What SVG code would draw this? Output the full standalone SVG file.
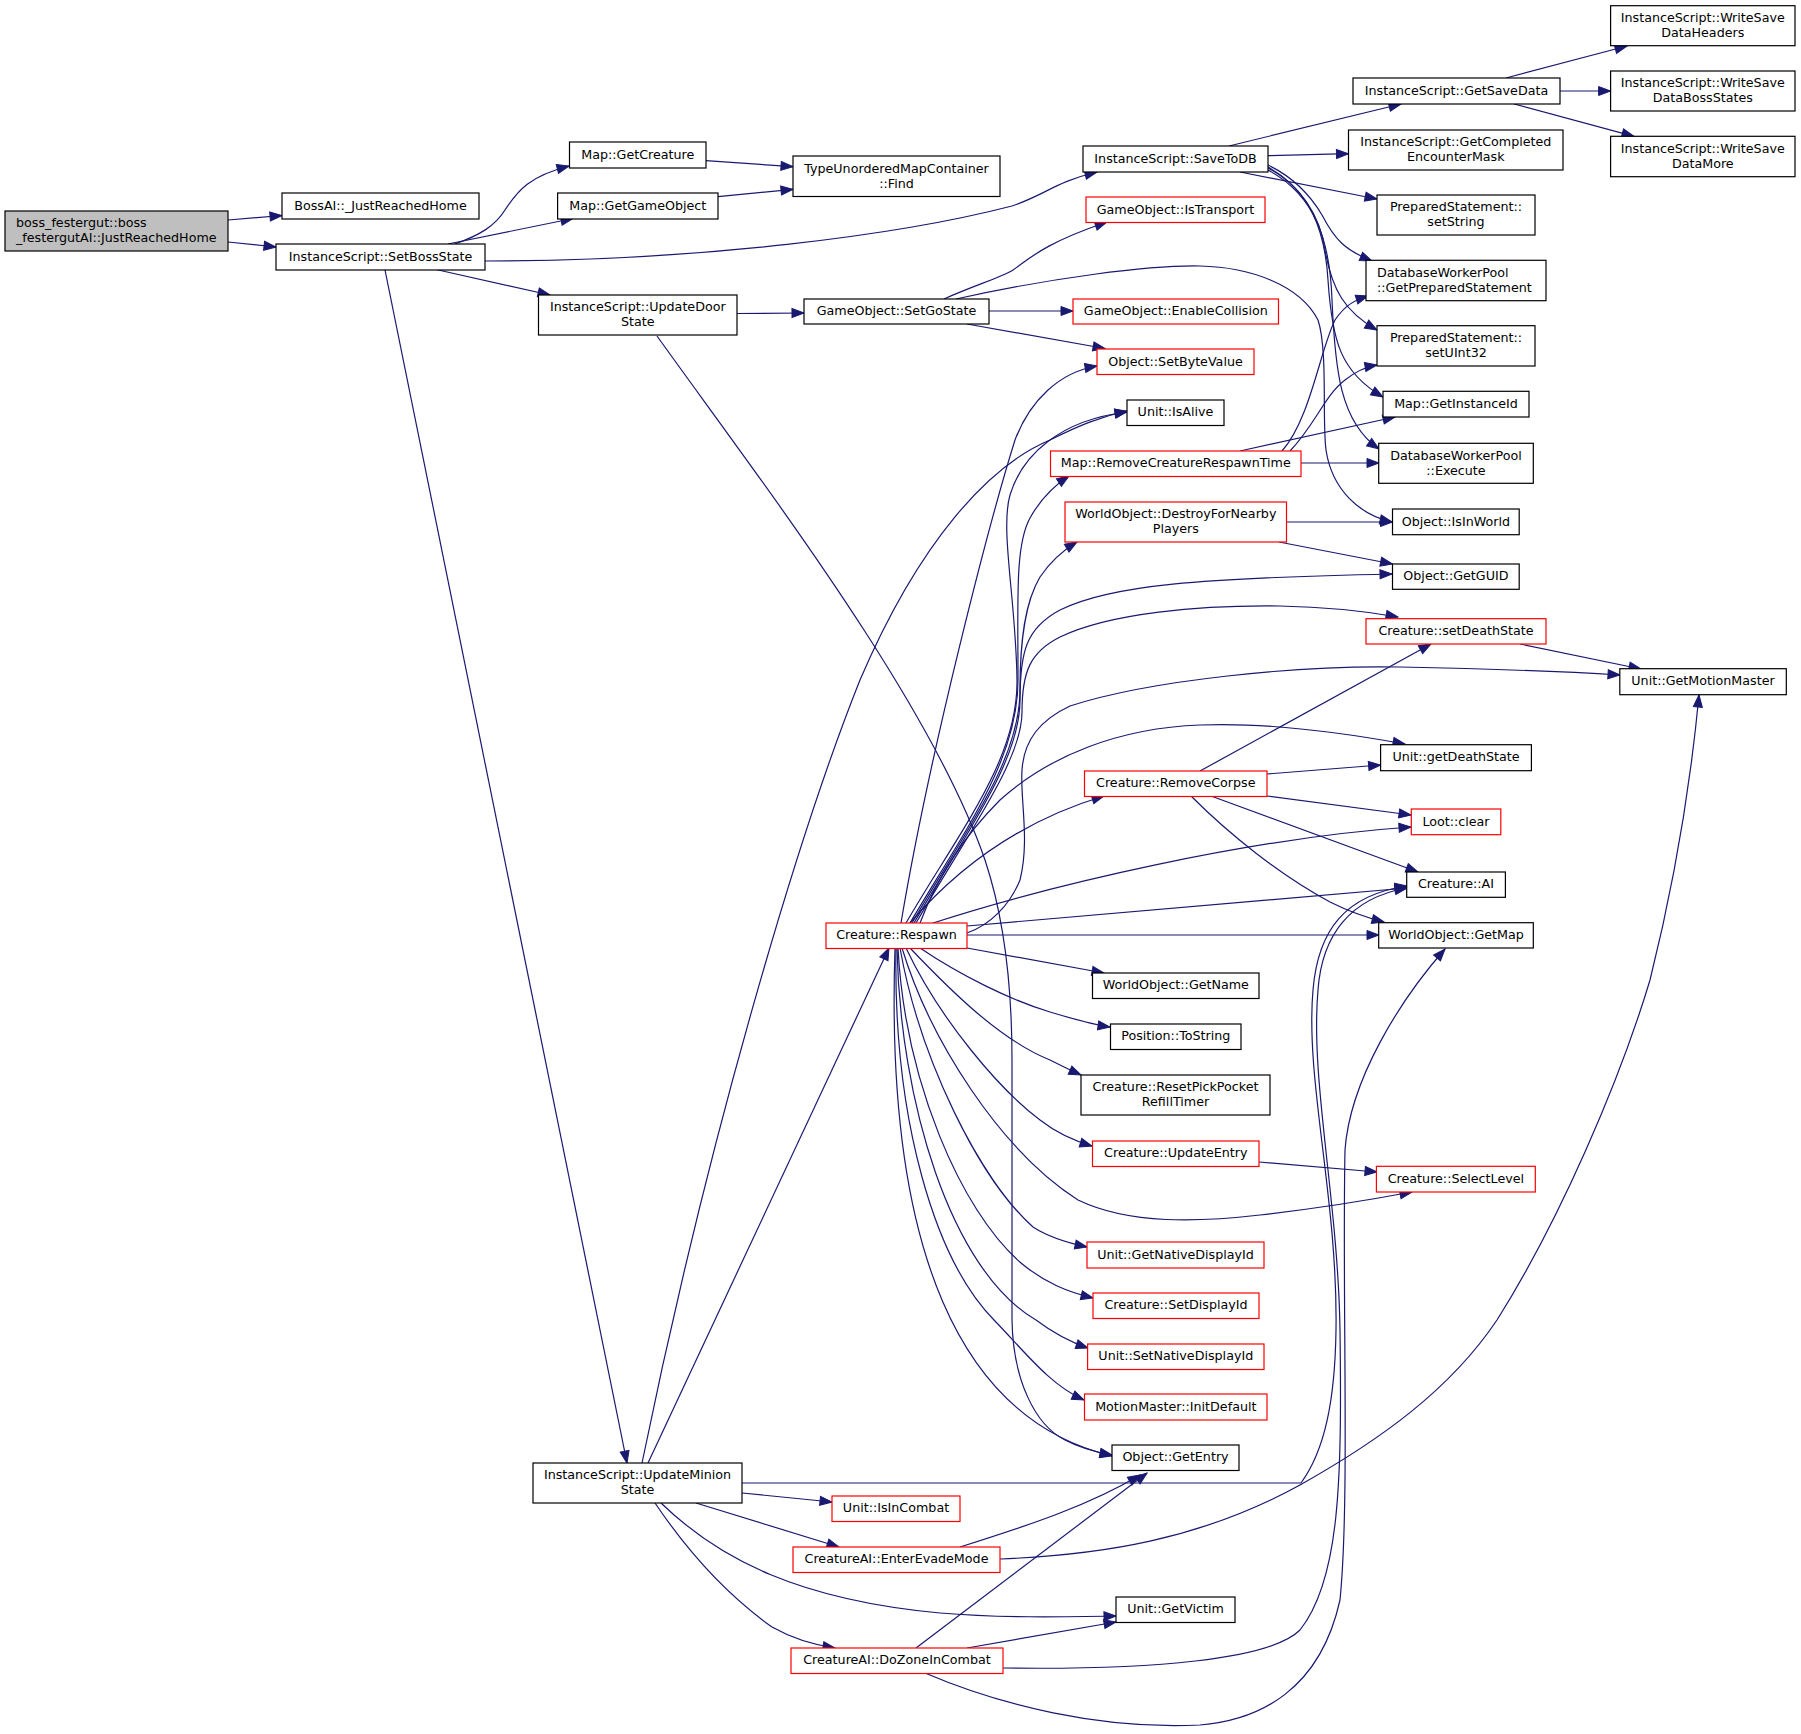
<svg xmlns="http://www.w3.org/2000/svg" width="1801" height="1734" viewBox="0 0 1801 1734">
<defs>
<marker id="a" markerUnits="userSpaceOnUse" markerWidth="13" markerHeight="10" refX="12" refY="4.5" orient="auto" overflow="visible">
<path d="M0,0 L12,4.5 L0,9 z" fill="#191970" stroke="#191970" stroke-width="1"/>
</marker>
<style>
.n rect{fill:#ffffff;stroke:#000000;stroke-width:1.2}
.r rect{stroke:#ff0000}
.g rect{fill:#bfbfbf}
text{font-family:"DejaVu Sans","Liberation Sans",sans-serif;font-size:12.7px;fill:#000000;text-anchor:middle}
text.l{text-anchor:start}
#edges path{fill:none;stroke:#191970;stroke-width:1.2;marker-end:url(#a)}
</style>
</defs>
<rect x="0" y="0" width="1801" height="1734" fill="#ffffff"/>
<g id="edges">
<path d="M228,220 L282,215.5"/>
<path d="M228,242 L276,247"/>
<path d="M455,244 C480,235 495,226 505,210 C518,190 530,176 569,166"/>
<path d="M448,244 L573,218.5"/>
<path d="M485,261 C700,261 900,235 1012,206 C1045,195 1055,182 1097,172"/>
<path d="M436,269.5 L550,295"/>
<path d="M385,270 L627,1463"/>
<path d="M706,160.7 L793,166.7"/>
<path d="M718,196.7 L793,189.3"/>
<path d="M737,313.5 L804,313"/>
<path d="M657,336 C760,480 930,700 985,860 C1005,920 1012,985 1012,1060 L1012,1320 C1013,1380 1035,1425 1065,1440 C1080,1448 1095,1452 1112,1455"/>
<path d="M1229,146 L1401,104"/>
<path d="M1268,155.7 L1348.5,153.7"/>
<path d="M1240,172 L1377,199"/>
<path d="M1268,165 C1295,178 1312,198 1322,215 C1335,240 1345,250 1372,261"/>
<path d="M1268,167 C1300,185 1320,215 1325,250 C1332,290 1345,312 1377,330"/>
<path d="M1268,168 C1310,190 1325,230 1328,280 C1332,340 1340,372 1383,397"/>
<path d="M1268,170 C1315,195 1330,240 1332,300 C1335,370 1340,422 1379,449"/>
<path d="M1506,78 L1627,46"/>
<path d="M1560,91 L1610.6,91"/>
<path d="M1514,104 L1634,136.3"/>
<path d="M944,299 C975,285 1000,278 1013,270 C1030,258 1045,243 1107,222"/>
<path d="M956,299 C1050,278 1150,265 1200,266 C1250,267 1300,285 1318,320 C1328,350 1322,420 1326,450 C1332,490 1360,515 1392,522"/>
<path d="M989,311 L1073,311"/>
<path d="M967,324 L1105,348.5"/>
<path d="M901,923 C930,750 990,520 1015,440 C1030,400 1060,372 1097,366"/>
<path d="M906,923 C960,830 1018,760 1017,680 C1016,600 1000,530 1010,495 C1022,455 1060,420 1127,412"/>
<path d="M642,1463 C710,1130 800,830 860,680 C920,540 990,465 1050,440 C1080,425 1100,417 1127,411"/>
<path d="M910,923 C965,830 1018,760 1018,680 C1018,600 1015,545 1030,518 C1040,500 1052,487 1069,476"/>
<path d="M912,923 C966,830 1020,760 1020,690 C1020,640 1025,602 1040,577 C1050,562 1062,551 1077,542"/>
<path d="M914,923 C968,830 1020,760 1020,700 C1020,652 1026,628 1060,610 C1110,585 1200,578 1392,574"/>
<path d="M916,923 C970,830 1022,760 1022,712 C1022,672 1030,652 1060,637 C1110,613 1200,605 1280,606 C1330,607 1370,612 1398,617"/>
<path d="M967,933 C990,925 1010,905 1020,880 C1030,840 1020,800 1022,770 C1024,740 1040,720 1070,706 C1150,680 1300,665 1400,667 C1500,669 1570,672 1620,675"/>
<path d="M920,923 C940,870 970,830 1000,800 C1050,755 1120,728 1200,725 C1270,722 1350,734 1405,744"/>
<path d="M910,923 Q990,830 1104,796"/>
<path d="M933,923 C1050,885 1250,838 1411,827"/>
<path d="M967,926 L1407,888"/>
<path d="M967,935 L1379,935"/>
<path d="M967,948 L1104,973"/>
<path d="M920,948 C960,975 1010,1000 1050,1012 C1080,1021 1095,1025 1110,1027"/>
<path d="M910,948 C950,990 1000,1040 1050,1060 C1062,1066 1072,1071 1081,1075"/>
<path d="M906,948 C940,1020 1000,1090 1040,1120 C1058,1134 1075,1141 1092,1146"/>
<path d="M902,948 C930,1040 1000,1150 1078,1200 C1130,1225 1200,1222 1260,1215 C1330,1207 1380,1198 1412,1192"/>
<path d="M900,948 C920,1060 980,1180 1033,1227 C1050,1238 1068,1243 1087,1247"/>
<path d="M898,948 C905,1080 960,1210 1021,1263 C1045,1283 1068,1292 1093,1298"/>
<path d="M897,948 C900,1100 950,1270 1036,1320 C1052,1332 1070,1342 1088,1348"/>
<path d="M896,948 C893,1120 935,1260 994,1320 C1025,1352 1050,1385 1084,1400"/>
<path d="M895,948 C885,1250 960,1420 1112,1456"/>
<path d="M648,1463 L889,948"/>
<path d="M742,1483 L1301,1483 C1325,1450 1335,1400 1336,1330 C1338,1200 1305,1080 1313,990 C1318,930 1345,895 1407,886"/>
<path d="M742,1493 L832,1502"/>
<path d="M696,1503 L839,1547"/>
<path d="M655,1503 C680,1540 720,1590 772,1627 C795,1640 815,1645 835,1648"/>
<path d="M661,1503 C720,1560 800,1600 940,1613 C1000,1618 1060,1617 1116,1616"/>
<path d="M960,1547 C1030,1525 1090,1505 1140,1475"/>
<path d="M1000,1559 C1100,1555 1200,1540 1300,1485 C1380,1440 1450,1390 1497,1320 C1560,1220 1620,1080 1650,980 C1675,880 1690,790 1699,695"/>
<path d="M916,1648 L1147,1473"/>
<path d="M967,1648 L1116,1622"/>
<path d="M1003,1668 C1150,1670 1270,1660 1300,1630 C1340,1580 1342,1480 1340,1330 C1338,1200 1310,1080 1318,990 C1322,935 1350,898 1407,888"/>
<path d="M925,1673 C1000,1705 1100,1730 1200,1725 C1260,1720 1320,1690 1340,1600 C1350,1500 1342,1300 1345,1150 C1350,1080 1400,1000 1445,949"/>
<path d="M1301,463 L1379,463"/>
<path d="M1240,451 L1395,417"/>
<path d="M1282,451 C1310,420 1320,350 1335,320 C1345,305 1355,300 1368,296"/>
<path d="M1290,451 C1315,425 1325,395 1345,380 C1355,372 1365,367 1377,365"/>
<path d="M1286.5,522 L1392.5,522"/>
<path d="M1279,542 L1392.5,564"/>
<path d="M1200,771 L1431,644"/>
<path d="M1267,774 L1380.6,765"/>
<path d="M1267,796 L1411,815"/>
<path d="M1211,796 L1418,872"/>
<path d="M1191,796 C1230,835 1280,875 1330,902 C1350,912 1368,918 1384,922"/>
<path d="M1520,644 L1641,669"/>
<path d="M1259,1162 L1377,1172"/>
</g>
<g id="root" class="n g"><rect x="5" y="211" width="223" height="40"/><text class="l" x="16" y="227.3">boss_festergut::boss</text><text class="l" x="16" y="242.3">_festergutAI::JustReachedHome</text></g>
<g id="bossai_justreachedhome" class="n"><rect x="282" y="193" width="197" height="26"/><text x="380.5" y="209.7">BossAI::_JustReachedHome</text></g>
<g id="setbossstate" class="n"><rect x="276" y="244" width="209" height="26"/><text x="380.5" y="260.7">InstanceScript::SetBossState</text></g>
<g id="getcreature" class="n"><rect x="569.5" y="142" width="136.5" height="26"/><text x="637.8" y="158.7">Map::GetCreature</text></g>
<g id="getgameobject" class="n"><rect x="557.6" y="193" width="160.4" height="26"/><text x="637.8" y="209.7">Map::GetGameObject</text></g>
<g id="find" class="n"><rect x="793" y="156" width="207" height="40.5"/><text x="896.5" y="172.6">TypeUnorderedMapContainer</text><text x="896.5" y="187.6">::Find</text></g>
<g id="updatedoorstate" class="n"><rect x="538.5" y="295" width="198.5" height="40"/><text x="637.8" y="311.3">InstanceScript::UpdateDoor</text><text x="637.8" y="326.3">State</text></g>
<g id="setgostate" class="n"><rect x="804" y="299" width="185" height="25"/><text x="896.5" y="315.2">GameObject::SetGoState</text></g>
<g id="savetodb" class="n"><rect x="1083" y="146" width="185" height="26"/><text x="1175.5" y="162.7">InstanceScript::SaveToDB</text></g>
<g id="istransport" class="n r"><rect x="1086" y="197" width="179" height="25.5"/><text x="1175.5" y="213.5">GameObject::IsTransport</text></g>
<g id="enablecollision" class="n r"><rect x="1073" y="299" width="205.5" height="25"/><text x="1175.8" y="315.2">GameObject::EnableCollision</text></g>
<g id="setbytevalue" class="n r"><rect x="1097" y="349" width="157" height="25.5"/><text x="1175.5" y="365.5">Object::SetByteValue</text></g>
<g id="isalive" class="n"><rect x="1127" y="400" width="97" height="25.5"/><text x="1175.5" y="416.4">Unit::IsAlive</text></g>
<g id="removecreaturerespawntime" class="n r"><rect x="1050.5" y="451" width="250.5" height="25.5"/><text x="1175.8" y="467.4">Map::RemoveCreatureRespawnTime</text></g>
<g id="destroyfornearbyplayers" class="n r"><rect x="1065" y="502" width="221.5" height="40"/><text x="1175.8" y="518.3">WorldObject::DestroyForNearby</text><text x="1175.8" y="533.3">Players</text></g>
<g id="removecorpse" class="n r"><rect x="1084.5" y="771" width="182.5" height="25.5"/><text x="1175.8" y="787.4">Creature::RemoveCorpse</text></g>
<g id="respawn" class="n r"><rect x="826" y="923" width="141" height="25.5"/><text x="896.5" y="939.4">Creature::Respawn</text></g>
<g id="getname" class="n"><rect x="1092.5" y="973" width="166.5" height="25.5"/><text x="1175.8" y="989.4">WorldObject::GetName</text></g>
<g id="tostring" class="n"><rect x="1110.5" y="1024" width="130.5" height="25.5"/><text x="1175.8" y="1040.4">Position::ToString</text></g>
<g id="resetpickpocketrefilltimer" class="n"><rect x="1081" y="1075" width="189" height="40"/><text x="1175.5" y="1091.3">Creature::ResetPickPocket</text><text x="1175.5" y="1106.3">RefillTimer</text></g>
<g id="updateentry" class="n r"><rect x="1092.5" y="1141" width="166.5" height="25.5"/><text x="1175.8" y="1157.4">Creature::UpdateEntry</text></g>
<g id="getnativedisplayid" class="n r"><rect x="1087" y="1242" width="177" height="26"/><text x="1175.5" y="1258.7">Unit::GetNativeDisplayId</text></g>
<g id="setdisplayid" class="n r"><rect x="1093" y="1293" width="166" height="25.5"/><text x="1176" y="1309.4">Creature::SetDisplayId</text></g>
<g id="setnativedisplayid" class="n r"><rect x="1087.6" y="1344" width="176.4" height="25.5"/><text x="1175.8" y="1360.4">Unit::SetNativeDisplayId</text></g>
<g id="initdefault" class="n r"><rect x="1084.5" y="1394" width="182.5" height="26"/><text x="1175.8" y="1410.7">MotionMaster::InitDefault</text></g>
<g id="getentry" class="n"><rect x="1112" y="1445" width="127" height="25.5"/><text x="1175.5" y="1461.4">Object::GetEntry</text></g>
<g id="updateminionstate" class="n"><rect x="533" y="1463" width="209" height="40"/><text x="637.5" y="1479.3">InstanceScript::UpdateMinion</text><text x="637.5" y="1494.3">State</text></g>
<g id="isincombat" class="n r"><rect x="832" y="1496" width="128" height="25.5"/><text x="896" y="1512.4">Unit::IsInCombat</text></g>
<g id="enterevademode" class="n r"><rect x="793" y="1547" width="207" height="25.5"/><text x="896.5" y="1563.4">CreatureAI::EnterEvadeMode</text></g>
<g id="dozoneincombat" class="n r"><rect x="791" y="1648" width="212" height="25.5"/><text x="897" y="1664.4">CreatureAI::DoZoneInCombat</text></g>
<g id="getvictim" class="n"><rect x="1116" y="1597" width="119" height="25.5"/><text x="1175.5" y="1613.4">Unit::GetVictim</text></g>
<g id="getsavedata" class="n"><rect x="1353" y="78" width="207" height="26"/><text x="1456.5" y="94.7">InstanceScript::GetSaveData</text></g>
<g id="getcompletedencountermask" class="n"><rect x="1348.5" y="130" width="214.5" height="40"/><text x="1455.8" y="146.3">InstanceScript::GetCompleted</text><text x="1455.8" y="161.3">EncounterMask</text></g>
<g id="setstring" class="n"><rect x="1377" y="195" width="158" height="40"/><text x="1456" y="211.3">PreparedStatement::</text><text x="1456" y="226.3">setString</text></g>
<g id="getpreparedstatement" class="n"><rect x="1366" y="260.3" width="180" height="40.4"/><text class="l" x="1377" y="276.8">DatabaseWorkerPool</text><text class="l" x="1377" y="291.8">::GetPreparedStatement</text></g>
<g id="setuint32" class="n"><rect x="1377" y="325.7" width="158" height="40.3"/><text x="1456" y="342.1">PreparedStatement::</text><text x="1456" y="357.1">setUInt32</text></g>
<g id="getinstanceid" class="n"><rect x="1383" y="391.3" width="146" height="25.7"/><text x="1456" y="407.9">Map::GetInstanceId</text></g>
<g id="execute" class="n"><rect x="1378.7" y="443.3" width="154.6" height="40"/><text x="1456" y="459.6">DatabaseWorkerPool</text><text x="1456" y="474.6">::Execute</text></g>
<g id="isinworld" class="n"><rect x="1392.5" y="509" width="126.7" height="25.7"/><text x="1455.9" y="525.5">Object::IsInWorld</text></g>
<g id="getguid" class="n"><rect x="1392.5" y="564" width="126.7" height="25.3"/><text x="1455.9" y="580.4">Object::GetGUID</text></g>
<g id="setdeathstate" class="n r"><rect x="1366" y="618.7" width="180" height="25.3"/><text x="1456" y="635">Creature::setDeathState</text></g>
<g id="getdeathstate" class="n"><rect x="1380.6" y="744.7" width="150.8" height="26"/><text x="1456" y="761.4">Unit::getDeathState</text></g>
<g id="lootclear" class="n r"><rect x="1411.3" y="809" width="89.5" height="25.7"/><text x="1456" y="825.5">Loot::clear</text></g>
<g id="creatureai" class="n"><rect x="1406.7" y="872" width="98.7" height="25.3"/><text x="1456" y="888.4">Creature::AI</text></g>
<g id="getmap" class="n"><rect x="1378.7" y="922.7" width="154.6" height="25.3"/><text x="1456" y="939">WorldObject::GetMap</text></g>
<g id="selectlevel" class="n r"><rect x="1376.4" y="1166.3" width="158.9" height="25.7"/><text x="1455.9" y="1182.9">Creature::SelectLevel</text></g>
<g id="getmotionmaster" class="n"><rect x="1619.8" y="668.7" width="166.5" height="26"/><text x="1703" y="685.4">Unit::GetMotionMaster</text></g>
<g id="writesavedataheaders" class="n"><rect x="1610.6" y="5.7" width="184.4" height="40"/><text x="1702.8" y="22">InstanceScript::WriteSave</text><text x="1702.8" y="37">DataHeaders</text></g>
<g id="writesavedatabossstates" class="n"><rect x="1610.6" y="71" width="184.4" height="40"/><text x="1702.8" y="87.3">InstanceScript::WriteSave</text><text x="1702.8" y="102.3">DataBossStates</text></g>
<g id="writesavedatamore" class="n"><rect x="1610.6" y="136.3" width="184.4" height="40.4"/><text x="1702.8" y="152.8">InstanceScript::WriteSave</text><text x="1702.8" y="167.8">DataMore</text></g>
</svg>
